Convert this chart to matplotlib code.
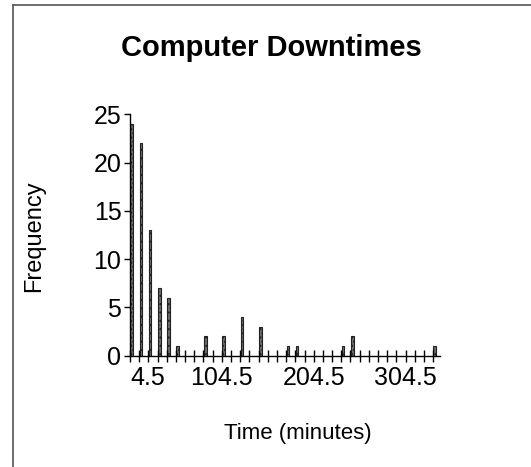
import matplotlib
matplotlib.use("Agg")
import matplotlib.pyplot as plt
from matplotlib.lines import Line2D

plt.rcParams["font.family"] = ["Liberation Sans", "DejaVu Sans"]

# bin midpoints (minutes) and counts
bin_mids = [4.5, 14.5, 24.5, 34.5, 44.5, 54.5, 84.5, 104.5, 124.5, 144.5,
            174.5, 184.5, 234.5, 244.5, 334.5]
counts = [24, 22, 13, 7, 6, 1, 2, 2, 4, 3, 1, 1, 1, 2, 1]
major_ticks = [4.5, 104.5, 204.5, 304.5]
tick_labels = ["4.5", "104.5", "204.5", "304.5"]
minor_ticks = [4.5 + 10 * k for k in range(34)]
y_ticks = [0, 5, 10, 15, 20, 25]

fig = plt.figure(figsize=(5.31, 4.67), dpi=100)
ax = fig.add_axes([0.2443, 0.2383, 0.5843, 0.5169])

ax.bar([m + 0.4 for m in bin_mids], counts, width=3.0, align="edge",
       color="#6e6e6e", edgecolor="#202020", linewidth=0.8, hatch="....")

ax.set_xlim(4.2, 342)
ax.set_ylim(0, 25)

for s in ["top", "right"]:
    ax.spines[s].set_visible(False)
ax.spines["left"].set_linewidth(1.0)
ax.spines["bottom"].set_linewidth(1.0)

ax.set_xticks(major_ticks)
ax.set_xticklabels(tick_labels)
ax.set_xticks(minor_ticks, minor=True)
ax.tick_params(axis="x", which="both", direction="inout", length=9, width=1,
               labelsize=18, pad=3)
ax.set_yticks(y_ticks)
ax.tick_params(axis="y", direction="out", length=4, width=1, labelsize=18, pad=2)

lbl = ax.get_xticklabels()[0]
lbl.set_horizontalalignment("left")

fig.text(0.511, 1 - 48 / 467, "Computer Downtimes", ha="center", va="center",
         fontsize=21, fontweight="bold")
fig.text(0.561, 1 - 433 / 467, "Time (minutes)", ha="center", va="center",
         fontsize=16)
fig.text(0.064, 1 - 236 / 467, "Frequency", ha="center", va="center",
         fontsize=17, rotation=90)

# partial frame of the original chart window
fig.add_artist(Line2D([13 / 531, 1], [1 - 5 / 467, 1 - 5 / 467],
                      transform=fig.transFigure, color="#555555", lw=1.2))
fig.add_artist(Line2D([13 / 531, 13 / 531], [0, 1 - 5 / 467],
                      transform=fig.transFigure, color="#555555", lw=1.2))

fig.savefig("out.png", dpi=100)
